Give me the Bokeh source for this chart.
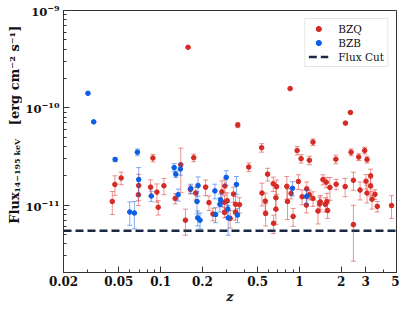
import numpy as np
from bokeh.plotting import figure
from bokeh.layouts import row
from bokeh.models import (FixedTicker, CustomJSTickFormatter, Legend,
                          LegendItem, ColumnDataSource)
from bokeh.core.properties import value
from bokeh.embed import file_html
from bokeh.resources import INLINE

# ---------------- data ----------------
z_bzq = [0.0449, 0.0469, 0.0520, 0.0692, 0.0696, 0.0848, 0.0881, 0.0941, 0.0962, 0.1057,
         0.1274, 0.1398, 0.151, 0.1578, 0.164, 0.1733, 0.1791, 0.2112, 0.2231, 0.2383,
         0.2764, 0.2904, 0.2888, 0.3018, 0.2888, 0.3171, 0.335, 0.3463, 0.3463, 0.3598,
         0.3698, 0.4313, 0.5343, 0.5373, 0.5676, 0.5707, 0.590, 0.6478, 0.6514, 0.6769,
         0.6769, 0.6844, 0.8113, 0.8204, 0.857, 0.871, 0.9008, 0.962, 0.983, 1.028,
         1.045, 1.128, 1.122, 1.179, 1.179, 1.252, 1.252, 1.360, 1.398, 1.413,
         1.477, 1.535, 1.560, 1.578, 1.595, 1.657, 1.829, 1.839, 2.134, 2.145,
         2.329, 2.355, 2.447, 2.447, 2.673, 2.733, 2.951, 3.017, 3.067, 3.067,
         3.258, 3.258, 3.33, 3.499, 3.636, 4.605]
flux_bzq = [1.09e-11, 1.63e-11, 1.90e-11, 1.28e-11, 1.59e-11, 1.53e-11, 3.05e-11, 1.36e-11, 9.5e-12, 1.58e-11,
            1.17e-11, 2.60e-11, 7.0e-12, 4.19e-10, 1.45e-11, 3.07e-11, 1.33e-11, 1.53e-11, 1.06e-11, 8.1e-12,
            1.37e-11, 1.57e-11, 1.07e-11, 1.11e-11, 8.4e-12, 7.3e-12, 1.30e-11, 1.02e-11, 8.5e-12, 6.65e-11,
            1.01e-11, 2.46e-11, 3.89e-11, 1.33e-11, 1.10e-11, 8.2e-12, 2.08e-11, 1.66e-11, 6.5e-12, 9.1e-12,
            1.19e-11, 1.55e-11, 1.56e-11, 1.09e-11, 1.575e-10, 1.32e-11, 7.65e-12, 3.64e-11, 1.75e-11, 3.00e-11,
            1.22e-11, 1.47e-11, 1.00e-11, 2.89e-11, 1.28e-11, 4.44e-11, 1.17e-11, 8.7e-12, 1.03e-11, 1.08e-11,
            1.83e-11, 1.02e-11, 1.72e-11, 1.09e-11, 8.8e-12, 1.52e-11, 2.96e-11, 1.64e-11, 1.55e-11, 6.96e-11,
            8.95e-11, 3.50e-11, 1.80e-11, 6.3e-12, 3.12e-11, 1.43e-11, 3.64e-11, 1.76e-11, 2.94e-11, 1.33e-11,
            2.00e-11, 1.57e-11, 1.15e-11, 1.29e-11, 9.7e-12, 9.9e-12]
err_bzq = [2.9e-12, 3.7e-12, 2.8e-12, 2.9e-12, 4.8e-12, 2.9e-12, 2.7e-12, 2.9e-12, 1.6e-12, 3.0e-12,
           1.4e-12, 1.25e-11, 2.1e-12, 5e-12, 1.5e-12, 2.8e-12, 2.0e-12, 2.8e-12, 1.8e-12, 1.2e-12,
           4.0e-12, 2.7e-12, 1.8e-12, 2.3e-12, 1.0e-12, 1.5e-12, 2.3e-12, 2.1e-12, 1.5e-12, 4.0e-12,
           1.8e-12, 2.5e-12, 3.9e-12, 3.5e-12, 2.3e-12, 2.1e-12, 3.1e-12, 2.8e-12, 1.4e-12, 2.8e-12,
           3.1e-12, 2.6e-12, 4.1e-12, 3.8e-12, 3e-12, 1.6e-12, 1.6e-12, 3.6e-12, 3.0e-12, 3.0e-12,
           2.1e-12, 2.6e-12, 1.7e-12, 2.9e-12, 1.5e-12, 3.5e-12, 2.0e-12, 2.3e-12, 1.8e-12, 1.8e-12,
           2.2e-12, 1.7e-12, 2.1e-12, 2.3e-12, 1.5e-12, 4.0e-12, 3.0e-12, 2.0e-12, 3.3e-12, 1.5e-12,
           2e-12, 2.8e-12, 3.8e-12, 3.65e-12, 2.5e-12, 3.0e-12, 2.9e-12, 3.0e-12, 2.4e-12, 2.8e-12,
           3.4e-12, 3.3e-12, 2.4e-12, 1.5e-12, 1.2e-12, 2.6e-12]

z_bzb = [0.0300, 0.0330, 0.0471, 0.0600, 0.0648, 0.0681, 0.0696, 0.0858, 0.1253, 0.1288,
         0.1338, 0.1390, 0.1649, 0.1831, 0.1861, 0.1851, 0.1924, 0.2462, 0.2489, 0.2675,
         0.2704, 0.2970, 0.3052, 0.3069, 0.3520, 0.3579, 0.8909, 1.128]
flux_bzb = [1.41e-10, 7.17e-11, 2.94e-11, 8.5e-12, 8.3e-12, 3.50e-11, 1.83e-11, 1.24e-11, 2.43e-11, 2.08e-11,
            1.28e-11, 2.35e-11, 1.48e-11, 1.09e-11, 1.59e-11, 7.4e-12, 7.0e-12, 1.40e-11, 8.0e-12, 1.02e-11,
            1.13e-11, 1.93e-11, 9.1e-12, 7.4e-12, 1.63e-11, 7.9e-12, 1.49e-11, 1.23e-11]
err_bzb = [1e-12, 5e-13, 1.4e-12, 2.3e-12, 2.6e-12, 2.8e-12, 6.0e-12, 1.5e-12, 2.4e-12, 1.6e-12,
           1.8e-12, 3.2e-12, 1.6e-12, 2.8e-12, 3.6e-12, 1.3e-12, 1.3e-12, 2.4e-12, 1.4e-12, 1.7e-12,
           1.7e-12, 3.3e-12, 1.5e-12, 2.5e-12, 3.4e-12, 1.3e-12, 2.5e-12, 2.1e-12]

flux_cut = 5.45e-12

x_lo, x_hi = 0.02, 5
y_lo, y_hi = 2.03e-12, 1e-9
x_major_ticks = [0.02, 0.05, 0.1, 0.2, 0.5, 1, 2, 3, 5]
x_minor_ticks = [0.03, 0.04, 0.06, 0.07, 0.08, 0.09, 0.3, 0.4, 0.6, 0.7, 0.8, 0.9, 4]
y_major_ticks = [1e-11, 1e-10, 1e-9]
y_minor_ticks = [m * 10.0 ** e for e in (-12, -11, -10) for m in range(2, 10)]

RED = "#d62b24"
BLUE = "#0b5ee6"
NAVY = "#1b2945"
AXC = "#333333"
TXT = "#111111"
FONT = "DejaVu Serif"

# layout sizes (px)
LAB_W = 22            # strip holding the rotated y label
MAIN_W, MAIN_H = 377, 306
BORDER_L, BORDER_R, BORDER_T, BORDER_B = 39, 3, 10, 32

# ---------------- main figure ----------------
p = figure(width=MAIN_W, height=MAIN_H,
           x_axis_type="log", y_axis_type="log",
           x_range=(x_lo, x_hi), y_range=(y_lo, y_hi),
           output_backend="svg", toolbar_location=None,
           min_border_left=BORDER_L, min_border_right=BORDER_R,
           min_border_top=BORDER_T, min_border_bottom=BORDER_B)
p.xgrid.grid_line_color = None
p.ygrid.grid_line_color = None
p.outline_line_color = AXC
p.outline_line_width = 1
p.background_fill_color = "white"
p.border_fill_color = "white"

p.xaxis.ticker = FixedTicker(ticks=x_major_ticks, minor_ticks=x_minor_ticks)
p.xaxis.formatter = CustomJSTickFormatter(code="return String(tick);")
p.yaxis.ticker = FixedTicker(ticks=y_major_ticks, minor_ticks=y_minor_ticks)

for ax in (p.xaxis, p.yaxis):
    ax.axis_line_color = AXC
    ax.major_tick_line_color = AXC
    ax.minor_tick_line_color = AXC
    ax.major_tick_in = 6
    ax.major_tick_out = 0
    ax.minor_tick_in = 3
    ax.minor_tick_out = 0
    ax.major_label_text_font = FONT
    ax.major_label_text_font_style = "bold"
    ax.major_label_text_color = TXT
    ax.major_label_standoff = 4
p.xaxis.major_label_text_font_size = "12px"
p.xaxis.major_label_standoff = 3
p.yaxis.major_label_text_font_size = "11.5px"

p.xaxis.axis_label = "z"
p.xaxis.axis_label_text_font = FONT
p.xaxis.axis_label_text_font_style = "bold italic"
p.xaxis.axis_label_text_font_size = "13px"
p.xaxis.axis_label_text_color = TXT
p.xaxis.axis_label_standoff = 0

# ---------------- flux cut ----------------
r_cut = p.line(x=[x_lo, x_hi], y=[flux_cut, flux_cut], line_color=NAVY,
               line_width=2.6, line_dash="8 4")


def draw(zs, fs, es, color):
    zs = np.array(zs); fs = np.array(fs); es = np.array(es)
    src = ColumnDataSource(dict(z=zs, f=fs, lo=fs - es, hi=fs + es))
    p.segment(x0="z", y0="lo", x1="z", y1="hi", source=src,
              line_color=color, line_alpha=0.5, line_width=1)
    p.scatter(x="z", y="lo", marker="dash", size=5, source=src,
              line_color=color, line_alpha=0.5, line_width=1)
    p.scatter(x="z", y="hi", marker="dash", size=5, source=src,
              line_color=color, line_alpha=0.5, line_width=1)
    return p.scatter(x="z", y="f", size=4.6, source=src,
                     fill_color=color, line_color=color, line_width=1)


r_q = draw(z_bzq, flux_bzq, err_bzq, RED)
r_b = draw(z_bzb, flux_bzb, err_bzb, BLUE)

legend = Legend(items=[LegendItem(label="BZQ", renderers=[r_q]),
                       LegendItem(label="BZB", renderers=[r_b]),
                       LegendItem(label="Flux Cut", renderers=[r_cut])],
                location="top_right", margin=8, padding=3, spacing=1,
                label_height=13, glyph_height=13, glyph_width=20, label_standoff=10,
                label_text_font=FONT, label_text_font_size="10.5px",
                label_text_color=TXT,
                border_line_color="#cccccc", border_line_width=1,
                background_fill_color="white", background_fill_alpha=0.85)
p.add_layout(legend)

# ---------------- y label strip (rotated, reading upwards) ----------------
# y coordinates are pixels from the strip bottom
yl = figure(width=LAB_W, height=MAIN_H, x_range=(0, LAB_W), y_range=(0, MAIN_H),
            output_backend="svg", toolbar_location=None,
            x_axis_location=None, y_axis_location=None, min_border=0)
yl.xgrid.grid_line_color = None
yl.ygrid.grid_line_color = None
yl.outline_line_color = None
yl.background_fill_color = "white"
yl.border_fill_color = "white"
tk = dict(angle=np.pi / 2, text_align="left", text_baseline="alphabetic",
          text_font=value(FONT), text_color=TXT, text_font_style="bold")
yl.text(x=[14], y=[57], text=["Flux"], text_font_size="13px", **tk)
yl.text(x=[16.5], y=[93], text=["14−195 keV"], text_font_size="8px", **tk)
yl.text(x=[14], y=[172], text=["[erg cm⁻² s⁻¹]"], text_font_size="13px", **tk)

layout = row(yl, p, spacing=0)
open("out.html", "w").write(file_html(layout, INLINE))
